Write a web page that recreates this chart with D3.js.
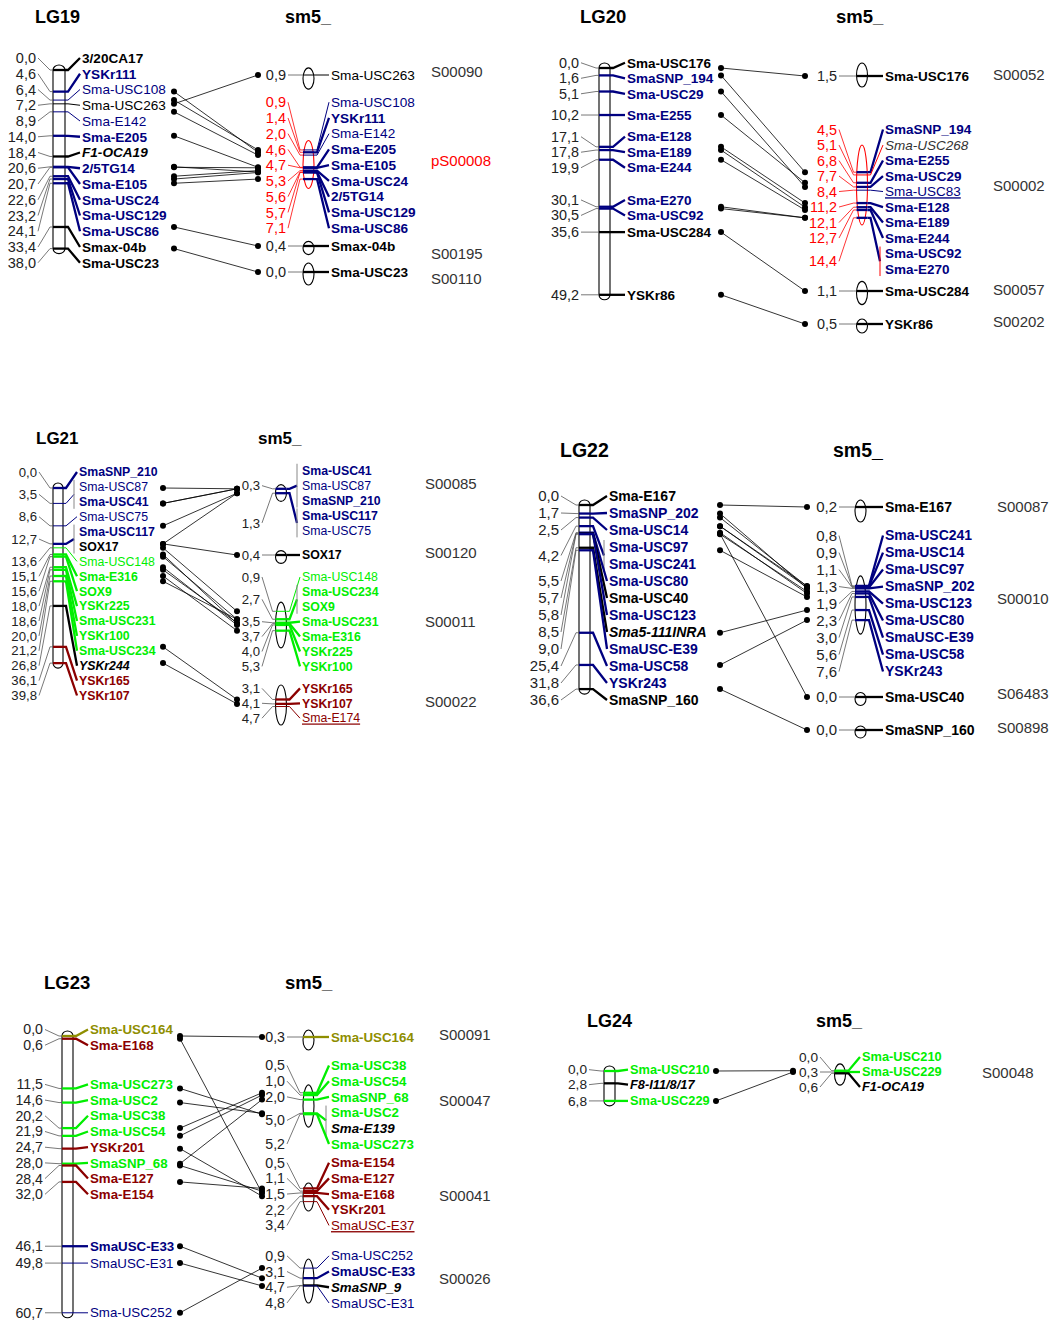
<!DOCTYPE html>
<html>
<head>
<meta charset="utf-8">
<script src="https://cdn.jsdelivr.net/npm/d3@7"></script>
<style>
  body { margin: 0; background: #fff; }
  svg text { font-family: "Liberation Sans", Arial, sans-serif; }
</style>
</head>
<body>
<svg id="viz" width="1052" height="1322"></svg>
<script>
// ---- data: loci as [cM, "marker:class", ...]
// class = colour letter (k black, n navy, g green, r dark red, o olive) + b bold, i italic, u underlined
const lg19 = [[0.0, "3/20CA17:kb"], [4.6, "YSKr111:nb"], [6.4, "Sma-USC108:n"], [7.2, "Sma-USC263:k"],
  [8.9, "Sma-E142:n"], [14.0, "Sma-E205:nb"], [18.4, "F1-OCA19:kbi"], [20.6, "2/5TG14:nb"],
  [20.7, "Sma-E105:nb"], [22.6, "Sma-USC24:nb"], [23.2, "Sma-USC129:nb"], [24.1, "Sma-USC86:nb"],
  [33.4, "Smax-04b:kb"], [38.0, "Sma-USC23:kb"]]
const s00090 = [[0.9, "Sma-USC263:k"]]
const ps00008 = [[0.9, "Sma-USC108:n"], [1.4, "YSKr111:nb"], [2.0, "Sma-E142:n"], [4.6, "Sma-E205:nb"],
  [4.7, "Sma-E105:nb"], [5.3, "Sma-USC24:nb"], [5.6, "2/5TG14:nb"], [5.7, "Sma-USC129:nb"], [7.1, "Sma-USC86:nb"]]
const s00195 = [[0.4, "Smax-04b:kb"]]
const s00110 = [[0.0, "Sma-USC23:kb"]]

const lg20 = [[0.0, "Sma-USC176:kb"], [1.6, "SmaSNP_194:nb"], [5.1, "Sma-USC29:nb"], [10.2, "Sma-E255:nb"],
  [17.1, "Sma-E128:nb"], [17.8, "Sma-E189:nb"], [19.9, "Sma-E244:nb"], [30.1, "Sma-E270:nb"],
  [30.5, "Sma-USC92:nb"], [35.6, "Sma-USC284:kb"], [49.2, "YSKr86:kb"]]
const s00052 = [[1.5, "Sma-USC176:kb"]]
const s00002 = [[4.5, "SmaSNP_194:nb"], [5.1, "Sma-USC268:ki"], [6.8, "Sma-E255:nb"], [7.7, "Sma-USC29:nb"],
  [8.4, "Sma-USC83:nu"], [11.2, "Sma-E128:nb"], [12.1, "Sma-E189:nb"], [12.7, "Sma-E244:nb"],
  [14.4, "Sma-USC92:nb", "Sma-E270:nb"]]
const s00057 = [[1.1, "Sma-USC284:kb"]]
const s00202 = [[0.5, "YSKr86:kb"]]

const lg21 = [[0.0, "SmaSNP_210:nb"], [3.5, "Sma-USC87:n", "Sma-USC41:nb"], [8.6, "Sma-USC75:n"],
  [12.7, "Sma-USC117:nb", "SOX17:kb"], [13.6, "Sma-USC148:g"], [15.1, "Sma-E316:gb"], [15.6, "SOX9:gb"],
  [18.0, "YSKr225:gb"], [18.6, "Sma-USC231:gb"], [20.0, "YSKr100:gb"], [21.2, "Sma-USC234:gb"],
  [26.8, "YSKr244:kbi"], [36.1, "YSKr165:rb"], [39.8, "YSKr107:rb"]]
const s00085 = [[0.3, "Sma-USC41:nb", "Sma-USC87:n", "SmaSNP_210:nb"], [1.3, "Sma-USC117:nb", "Sma-USC75:n"]]
const s00120 = [[0.4, "SOX17:kb"]]
const s00011 = [[0.9, "Sma-USC148:g"], [2.7, "Sma-USC234:gb", "SOX9:gb"], [3.5, "Sma-USC231:gb"],
  [3.7, "Sma-E316:gb"], [4.0, "YSKr225:gb"], [5.3, "YSKr100:gb"]]
const s00022 = [[3.1, "YSKr165:rb"], [4.1, "YSKr107:rb"], [4.7, "Sma-E174:ru"]]

const lg22 = [[0.0, "Sma-E167:kb"], [1.7, "SmaSNP_202:nb"], [2.5, "Sma-USC14:nb"],
  [4.2, "Sma-USC97:nb", "Sma-USC241:nb"], [5.5, "Sma-USC80:nb"], [5.7, "Sma-USC40:kb"],
  [5.8, "Sma-USC123:nb"], [8.5, "Sma5-111INRA:kbi"], [9.0, "SmaUSC-E39:nb"], [25.4, "Sma-USC58:nb"],
  [31.8, "YSKr243:nb"], [36.6, "SmaSNP_160:kb"]]
const s00087 = [[0.2, "Sma-E167:kb"]]
const s00010 = [[0.8, "Sma-USC241:nb"], [0.9, "Sma-USC14:nb"], [1.1, "Sma-USC97:nb"], [1.3, "SmaSNP_202:nb"],
  [1.9, "Sma-USC123:nb"], [2.3, "Sma-USC80:nb"], [3.0, "SmaUSC-E39:nb"], [5.6, "Sma-USC58:nb"], [7.6, "YSKr243:nb"]]
const s06483 = [[0.0, "Sma-USC40:kb"]]
const s00898 = [[0.0, "SmaSNP_160:kb"]]

const lg23 = [[0.0, "Sma-USC164:ob"], [0.6, "Sma-E168:rb"], [11.5, "Sma-USC273:gb"], [14.6, "Sma-USC2:gb"],
  [20.2, "Sma-USC38:gb"], [21.9, "Sma-USC54:gb"], [24.7, "YSKr201:rb"], [28.0, "SmaSNP_68:gb"],
  [28.4, "Sma-E127:rb"], [32.0, "Sma-E154:rb"], [46.1, "SmaUSC-E33:nb"], [49.8, "SmaUSC-E31:n"],
  [60.7, "Sma-USC252:n"]]
const s00091 = [[0.3, "Sma-USC164:ob"]]
const s00047 = [[0.5, "Sma-USC38:gb"], [1.0, "Sma-USC54:gb"], [2.0, "SmaSNP_68:gb"],
  [5.0, "Sma-USC2:gb", "Sma-E139:kbi"], [5.2, "Sma-USC273:gb"]]
const s00041 = [[0.5, "Sma-E154:rb"], [1.1, "Sma-E127:rb"], [1.5, "Sma-E168:rb"], [2.2, "YSKr201:rb"],
  [3.4, "SmaUSC-E37:ru"]]
const s00026 = [[0.9, "Sma-USC252:n"], [3.1, "SmaUSC-E33:nb"], [4.7, "SmaSNP_9:kbi"], [4.8, "SmaUSC-E31:n"]]

const lg24 = [[0.0, "Sma-USC210:gb"], [2.8, "F8-I11/8/17:kbi"], [6.8, "Sma-USC229:gb"]]
const s00048 = [[0.0, "Sma-USC210:gb"], [0.3, "Sma-USC229:gb"], [0.6, "F1-OCA19:kbi"]]

// scaffold lengths (cM)
const scaffoldIds = ["S00090", "pS00008", "S00195", "S00110", "S00052", "S00002", "S00057", "S00202",
  "S00085", "S00120", "S00011", "S00022", "S00087", "S00010", "S06483", "S00898",
  "S00091", "S00047", "S00041", "S00026", "S00048"]
const scaffoldLen = [2.8, 8.5, 1.1, 3.0, 3.5, 15.6, 3.3, 1.3,
  2.0, 1.1, 8.6, 7.3, 2.8, 10, 1.0, 0.8,
  2.6, 7.5, 4.4, 7.9, 3.0]

// ---- layout
const panels = [
  { title: "LG19", lg: lg19, k: 4.7, y0: 70, fs: 13.6, fp: 14.5, gap: 15.75, top: -12, ts: 18,
    tx: 35, ty: 23, smx: 285,
    x: { pos: 36, bar: 59, bw: 12, name: 82, dotL: 174, dotR: 258, sPos: 286, sBar: 308.5, sName: 331, sId: 431 },
    sc: [{ id: "S00090", d: s00090, sy: 75, eDy: 3.5, idY: 72 },
      { id: "pS00008", d: ps00008, sy: 164.5, eDy: 0, idY: 161, red: true, idRed: true },
      { id: "S00195", d: s00195, sy: 246, idY: 254 },
      { id: "S00110", d: s00110, sy: 272, idY: 279 }] },
  { title: "LG20", lg: lg20, k: 4.61, y0: 68, fs: 13.5, fp: 14.4, gap: 15.5, top: -12, ts: 18.5,
    tx: 580, ty: 23, smx: 836,
    x: { pos: 579, bar: 604.5, bw: 11, name: 627, dotL: 721, dotR: 805, sPos: 837, sBar: 862, sName: 885, sId: 993 },
    sc: [{ id: "S00052", d: s00052, sy: 76, eDy: -1, idY: 75 },
      { id: "S00002", d: s00002, sy: 195, eDy: -10, labelDy: 3, idY: 186, red: true },
      { id: "S00057", d: s00057, sy: 291, idY: 290 },
      { id: "S00202", d: s00202, sy: 324, idY: 322 }] },
  { title: "LG21", lg: lg21, k: 4.4, y0: 488, fs: 12.3, fp: 13.2, gap: 14.9, top: -16, ts: 17,
    tx: 36, ty: 444, smx: 258,
    x: { pos: 37, bar: 58, bw: 10, name: 79, dotL: 163, dotR: 237, sPos: 260, sBar: 281, sName: 302, sId: 425 },
    sc: [{ id: "S00085", d: s00085, sy: 491, labelDy: 10, idY: 484 },
      { id: "S00120", d: s00120, sy: 555, idY: 553 },
      { id: "S00011", d: s00011, sy: 621, eDy: 4, idY: 622 },
      { id: "S00022", d: s00022, sy: 703, idY: 702 }] },
  { title: "LG22", lg: lg22, k: 5.03, y0: 505, fs: 14, fp: 15, gap: 17, top: -9, ts: 19.5,
    tx: 560, ty: 457, smx: 833,
    x: { pos: 559, bar: 584.5, bw: 11, name: 609, dotL: 720, dotR: 807, sPos: 837, sBar: 860.5, sName: 885, sId: 997 },
    sc: [{ id: "S00087", d: s00087, sy: 507, eDy: 4, idY: 507 },
      { id: "S00010", d: s00010, sy: 603, labelDy: 8, idY: 599 },
      { id: "S06483", d: s06483, sy: 697, idY: 694 },
      { id: "S00898", d: s00898, sy: 730, idY: 728 }] },
  { title: "LG23", lg: lg23, k: 4.56, y0: 1036, fs: 13.3, fp: 14.2, gap: 15.7, top: -12, ts: 18.5,
    tx: 44, ty: 989, smx: 285,
    x: { pos: 43, bar: 67.5, bw: 11, name: 90, dotL: 180, dotR: 262, sPos: 285, sBar: 308.5, sName: 331, sId: 439 },
    sc: [{ id: "S00091", d: s00091, sy: 1037, eDy: 3, idY: 1035 },
      { id: "S00047", d: s00047, sy: 1103.5, eDy: 2.5, idY: 1101 },
      { id: "S00041", d: s00041, sy: 1195, idY: 1196 },
      { id: "S00026", d: s00026, sy: 1277, eDy: 4, idY: 1279 }] },
  { title: "LG24", lg: lg24, k: 4.4, y0: 1071, fs: 12.8, fp: 13.7, gap: 15, top: -12, ts: 18,
    tx: 587, ty: 1027, smx: 816,
    x: { pos: 587, bar: 609.5, bw: 11, name: 630, dotL: 716, dotR: 793, sPos: 818, sBar: 840, sName: 862, sId: 982 },
    sc: [{ id: "S00048", d: s00048, sy: 1072, eDy: 2.5, idY: 1073 }] }
]

const colour = d3.scaleOrdinal()
  .domain(["k", "n", "g", "r", "o"])
  .range(["#000000", "#000080", "#00ee00", "#8b0000", "#8e8e00"])
const fmt = d3.format(".1f")

const svg = d3.select("#viz")

function parseMarker(s, pos, li) {
  var parts = s.split(":"), code = parts[1]
  return { name: parts[0], c: code[0], bold: code.includes("b"), italic: code.includes("i"),
    under: code.includes("u"), pos: pos, locus: li }
}

// keep labels at least `gap` apart, each run of touching labels centred on its targets
function placeLabels(desired, gap, minTop) {
  var blocks = []
  desired.forEach(function (d, i) {
    blocks.push({ start: i, n: 1, sum: d, s: d })
    while (blocks.length > 1) {
      var cur = blocks[blocks.length - 1], prev = blocks[blocks.length - 2]
      if (prev.s + prev.n * gap > cur.s) {
        prev.sum += cur.sum - cur.n * prev.n * gap
        prev.n += cur.n
        prev.s = prev.sum / prev.n
        blocks.pop()
      } else break
    }
  })
  var out = []
  blocks.forEach(function (b) {
    for (var j = 0; j < b.n; j++) out.push(b.s + j * gap)
  })
  for (var i = 0; i < out.length; i++) {
    var lo = i === 0 ? minTop : out[i - 1] + gap
    if (out[i] < lo) out[i] = lo
  }
  return out
}

// draws a chromosome bar or a scaffold ellipse with its ticks and labels; returns name -> tick y
function drawGroup(g, loci, o) {
  var markers = []
  loci.forEach(function (l, li) {
    l.slice(1).forEach(function (s) { markers.push(parseMarker(s, l[0], li)) })
  })
  var ys = placeLabels(markers.map(function (m) { return o.y(m.pos) }), o.gap, o.minTop)
  markers.forEach(function (m, i) { m.ly = ys[i] + (o.labelDy || 0) })

  var left = o.cx - o.w / 2, right = o.cx + o.w / 2
  var outline = o.red ? "#ff0000" : "#000"
  if (o.shape === "bar") {
    var ext = d3.extent(loci, function (l) { return l[0] })
    g.append("rect")
      .attr("x", left).attr("y", o.y(ext[0]) - 5)
      .attr("width", o.w).attr("height", o.y(ext[1]) - o.y(ext[0]) + 10)
      .attr("rx", o.w / 2).attr("ry", 5)
      .attr("fill", "#fff").attr("stroke", outline).attr("stroke-width", 1.1)
  } else {
    g.append("ellipse")
      .attr("cx", o.cx).attr("cy", o.ecy)
      .attr("rx", o.w / 2).attr("ry", o.ery)
      .attr("fill", "#fff").attr("stroke", outline).attr("stroke-width", 1.1)
  }

  var ticks = {}
  loci.forEach(function (l, li) {
    var ms = markers.filter(function (m) { return m.locus === li })
    var first = ms[0]
    var ty = o.y(l[0])
    var ly = d3.mean(ms, function (m) { return m.ly })
    var lc = (o.red && first.c === "k") ? "#ff0000" : colour(first.c)
    var lw = first.bold ? 2.3 : 1
    var endX = ms.length > 1 ? o.nameX - 5 : o.nameX - 2

    // position label and its leader
    g.append("path")
      .attr("d", "M" + (o.posX + 2) + "," + ly + "L" + (left - 3) + "," + ty + "L" + left + "," + ty)
      .attr("fill", "none").attr("stroke", o.red ? "#ff0000" : "#555").attr("stroke-width", 0.8)
    g.append("text")
      .attr("x", o.posX).attr("y", ly).attr("dy", "0.35em")
      .attr("text-anchor", "end")
      .attr("font-size", o.fp)
      .attr("fill", o.red ? "#ff0000" : "#222")
      .text(fmt(l[0]).replace(".", ","))

    // tick and leader to the names
    g.append("line")
      .attr("x1", left).attr("x2", right).attr("y1", ty).attr("y2", ty)
      .attr("stroke", lc).attr("stroke-width", lw)
    g.append("path")
      .attr("d", "M" + right + "," + ty + "L" + (right + 3) + "," + ty + "L" + endX + "," + ly)
      .attr("fill", "none").attr("stroke", lc).attr("stroke-width", lw)

    if (ms.length > 1) {
      g.append("line")
        .attr("x1", o.nameX - 5).attr("x2", o.nameX - 5)
        .attr("y1", ms[0].ly - 7).attr("y2", ms[ms.length - 1].ly + 7)
        .attr("stroke", o.red ? "#ff0000" : "#888").attr("stroke-width", 1)
    }

    ms.forEach(function (m) {
      ticks[m.name] = ty
      g.append("text")
        .attr("x", o.nameX).attr("y", m.ly).attr("dy", "0.35em")
        .attr("font-size", o.fs)
        .attr("font-weight", m.bold ? "bold" : "normal")
        .attr("font-style", m.italic ? "italic" : "normal")
        .style("text-decoration", m.under ? "underline" : "none")
        .attr("fill", m.italic && !m.bold ? "#333" : colour(m.c))
        .text(m.name)
    })
  })
  return ticks
}

panels.forEach(function (p) {
  var gp = svg.append("g")
  var links = gp.append("g")

  gp.append("text").attr("x", p.tx).attr("y", p.ty)
    .attr("font-size", p.ts).attr("font-weight", "bold").text(p.title)
  gp.append("text").attr("x", p.smx).attr("y", p.ty)
    .attr("font-size", p.ts).attr("font-weight", "bold").text("sm5_")

  var yLG = d3.scaleLinear().domain([0, 1]).range([p.y0, p.y0 + p.k])
  var lgTicks = drawGroup(gp.append("g"), p.lg, {
    shape: "bar", y: yLG, cx: p.x.bar, w: p.x.bw, posX: p.x.pos, nameX: p.x.name,
    fs: p.fs, fp: p.fp, gap: p.gap, minTop: p.y0 + p.top
  })

  p.sc.forEach(function (s) {
    var ext = d3.extent(s.d, function (l) { return l[0] })
    var mid = (ext[0] + ext[1]) / 2
    var yS = d3.scaleLinear().domain([mid, mid + 1]).range([s.sy, s.sy + p.k])
    var len = scaffoldLen[scaffoldIds.indexOf(s.id)]
    var sTicks = drawGroup(gp.append("g"), s.d, {
      shape: "ellipse", y: yS, cx: p.x.sBar, w: 11, posX: p.x.sPos, nameX: p.x.sName,
      ecy: s.sy + (s.eDy === undefined ? 2 : s.eDy), ery: len * p.k / 2 + 4,
      fs: p.fs, fp: p.fp, gap: p.gap, minTop: -Infinity, labelDy: s.labelDy, red: s.red
    })
    gp.append("text")
      .attr("x", p.x.sId).attr("y", s.idY).attr("dy", "0.35em")
      .attr("font-size", 15).attr("fill", s.idRed ? "#ff0000" : "#333")
      .text(s.id)

    // connect the same marker on the linkage group and the scaffold
    Object.keys(sTicks).forEach(function (name) {
      if (!(name in lgTicks)) return
      var y1 = lgTicks[name], y2 = sTicks[name]
      links.append("line")
        .attr("x1", p.x.dotL).attr("y1", y1).attr("x2", p.x.dotR).attr("y2", y2)
        .attr("stroke", "#000").attr("stroke-width", 0.8)
      links.append("circle").attr("cx", p.x.dotL).attr("cy", y1).attr("r", 3).attr("fill", "#000")
      links.append("circle").attr("cx", p.x.dotR).attr("cy", y2).attr("r", 3).attr("fill", "#000")
    })
  })
})
</script>
</body>
</html>
